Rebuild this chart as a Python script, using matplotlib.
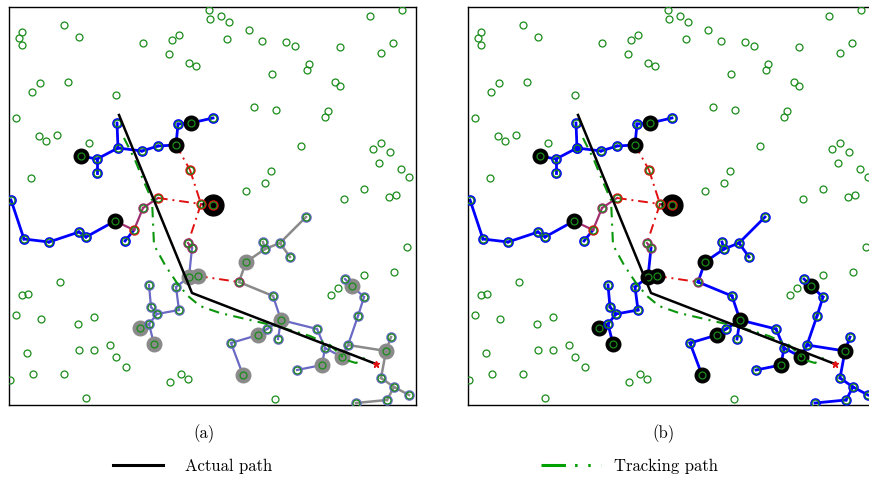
import matplotlib
matplotlib.use("Agg")
import matplotlib.pyplot as plt
from matplotlib.lines import Line2D

# field size (m)
FIELD_W, FIELD_H = 407, 398

# sensors that take no part in tracking
sensor_x = [200, 201, 212, 220, 361, 393, 13, 10, 13, 55, 70, 134, 163, 170, 160, 180, 187, 218, 240, 253,
            277, 286, 331, 384, 372, 300, 298, 263, 326, 331, 31, 23, 59, 107, 7, 245, 267, 319, 316, 30,
            37, 48, 80, 292, 364, 372, 381, 370, 392, 400, 262, 256, 237, 22, 355, 335, 380, 387,
            398, 355, 385, 322, 329, 51, 13, 19, 7, 32, 69, 85, 18, 70, 85, 101, 107, 117, 24, 55, 1, 77,
            172, 179, 161, 266]
sensor_y = [395, 386, 389, 383, 389, 395, 373, 367, 360, 380, 368, 362, 365, 370, 351, 342, 339, 366, 375, 364,
            363, 359, 358, 362, 352, 341, 335, 331, 323, 319, 322, 313, 323, 310, 287, 298, 295, 294, 288, 269,
            264, 270, 262, 259, 256, 262, 253, 242, 236, 228, 234, 222, 214, 227, 216, 206, 208, 210,
            158, 130, 133, 110, 117, 123, 110, 111, 90, 86, 81, 88, 52, 55, 55, 60, 48, 38, 31, 31, 25, 7,
            31, 26, 23, 6]

# sensors in the tracking trees
node_x = [108, 109, 88, 88, 72, 133, 149, 167, 169, 182, 204,
          2, 15, 40, 70, 77, 106, 125, 116, 134, 149,
          181, 192, 204, 179, 183, 180, 189,
          140, 142, 148, 140, 131, 145, 170, 167,
          230, 237, 256, 254, 271, 281, 297, 264, 272, 249, 258, 269, 222, 234,
          308, 316, 313, 288, 333, 339, 349, 355, 343, 336, 377, 382, 372, 385, 400, 378, 347]
node_y = [282, 257, 246, 232, 249, 254, 259, 260, 281, 282, 287,
          205, 166, 163, 173, 168, 184, 175, 164, 197, 207,
          235, 201, 200, 162, 157, 128, 129,
          120, 98, 91, 81, 77, 61, 95, 118,
          123, 143, 156, 163, 162, 148, 188, 109, 85, 70, 76, 66, 62, 30,
          76, 57, 40, 35, 48, 60, 89, 108, 119, 126, 54, 68, 27, 18, 10, 5, 2]

# cluster heads, and the head nearest the target
heads = [4, 7, 9, 16, 26, 27, 32, 33, 37, 44, 45, 49, 52, 54, 58, 60]
target_head = 23
red_nodes = [17, 20, 21, 22, 23]
purple_nodes = [19, 24, 25, 36]
upper_nodes = [0, 1, 2, 3, 5, 6, 8, 10, 11, 12, 13, 14, 15, 18]
lower_nodes = [28, 29, 30, 31, 34, 35, 38, 39, 40, 41, 42, 43, 46, 47, 48,
               50, 51, 53, 55, 56, 57, 59, 61, 62, 63, 64, 65, 66]

upper_edges = [(0, 1), (1, 2), (2, 3), (2, 4), (1, 5), (5, 6), (6, 7), (7, 8), (8, 9), (9, 10),
               (11, 12), (12, 13), (13, 14), (14, 15), (15, 16), (17, 18)]
handoff_edges = [(16, 17), (17, 19), (19, 20), (22, 23), (24, 25)]
query_edges = [(7, 21), (21, 22), (20, 22), (22, 24), (27, 36)]
lower_edges = [(25, 26), (28, 29), (29, 30), (30, 31), (31, 32), (31, 33), (30, 34), (34, 35), (35, 26),
               (43, 44), (44, 46), (46, 45), (45, 48), (48, 49), (44, 47), (44, 50), (50, 51), (51, 52),
               (52, 53), (51, 54), (54, 55), (55, 56), (56, 57), (57, 58), (58, 59)]
idle_edges = [(36, 37), (37, 38), (38, 39), (38, 40), (40, 41), (40, 42), (36, 43),
              (55, 60), (60, 61), (60, 62), (62, 63), (63, 64), (63, 65), (65, 66)]

# target trajectory and its estimate
actual_x = [110, 183, 367]
actual_y = [290, 112, 41]
track_x = [115, 126, 135, 143, 144, 145, 156, 168, 179, 191, 211, 241, 271, 301, 321, 337, 347, 357]
track_y = [267, 245, 223, 205, 183, 160, 140, 122, 109, 99, 92, 85, 78, 69, 60, 45, 42, 48]

GREEN = "#1a8c1a"
TRACK_GREEN = "#0a960a"
BLUE = "#0000ff"
SLATE = "#6a6ac4"
RED = "#e01010"
PURPLE = "#a03070"


def draw_edges(ax, edges, **kw):
    for i, j in edges:
        ax.plot([node_x[i], node_x[j]], [node_y[i], node_y[j]], **kw)


def draw_nodes(ax, idx, **kw):
    ax.plot([node_x[i] for i in idx], [node_y[i] for i in idx], linestyle="none", marker="o",
            mfc="none", **kw)


def draw_panel(ax, full_tree):
    lower_col = BLUE if full_tree else SLATE
    head_col = "black" if full_tree else "#8a8a8a"

    draw_edges(ax, upper_edges, color=BLUE, lw=2.0, zorder=2)
    draw_edges(ax, handoff_edges, color=PURPLE, lw=1.6, zorder=2)
    draw_edges(ax, query_edges, color=RED, lw=1.4, ls=(0, (5, 2.5, 1, 2.5)), zorder=2)
    if full_tree:
        draw_edges(ax, lower_edges + idle_edges, color=BLUE, lw=2.0, zorder=2)
    else:
        draw_edges(ax, lower_edges, color=SLATE, lw=1.6, zorder=2)
        draw_edges(ax, idle_edges, color="#8a8a8a", lw=1.8, zorder=2)

    # cluster heads
    ax.plot([node_x[i] for i in heads[:4]], [node_y[i] for i in heads[:4]], "o",
            color="black", ms=10.5, zorder=3)
    ax.plot([node_x[i] for i in heads[4:]], [node_y[i] for i in heads[4:]], "o",
            color=head_col, ms=10.5, zorder=3)
    ax.plot(node_x[target_head], node_y[target_head], "o", color="black", ms=15, zorder=3)

    # node roles
    draw_nodes(ax, upper_nodes, ms=6.2, mec=BLUE, mew=1.5, zorder=4)
    draw_nodes(ax, lower_nodes, ms=6.2, mec=lower_col, mew=1.4, zorder=4)
    draw_nodes(ax, red_nodes, ms=6.2, mec=RED, mew=1.3, zorder=4)
    draw_nodes(ax, purple_nodes, ms=6.2, mec=PURPLE, mew=1.3, zorder=4)
    if full_tree:
        ax.plot(node_x[1], node_y[1], "o", color=BLUE, ms=6.5, zorder=4)

    # every sensor
    ax.plot(sensor_x + node_x, sensor_y + node_y, linestyle="none", marker="o", ms=5,
            mfc="none", mec=GREEN, mew=0.9, zorder=5)

    ax.plot(track_x, track_y, color=TRACK_GREEN, lw=1.5, ls=(0, (5, 3, 1, 3)), zorder=6)
    ax.plot(actual_x, actual_y, color="black", lw=1.8, zorder=7)
    ax.plot(actual_x[-1], actual_y[-1], "*", color=RED, ms=5, zorder=8)

    ax.set_xlim(0, FIELD_W)
    ax.set_ylim(0, FIELD_H)
    ax.set_xticks([])
    ax.set_yticks([])
    for s in ax.spines.values():
        s.set_linewidth(1.0)


fig = plt.figure(figsize=(8.69, 4.79), dpi=100)
ax_a = fig.add_axes([9 / 869, 1 - 405 / 479, 407 / 869, 398 / 479])
ax_b = fig.add_axes([468 / 869, 1 - 405 / 479, 407 / 869, 398 / 479])
draw_panel(ax_a, full_tree=False)
draw_panel(ax_b, full_tree=True)

font = dict(family="cmr10", size=12)
fig.text(204 / 869, 1 - 434 / 479, "(a)", ha="center", va="center", fontdict=font)
fig.text(663 / 869, 1 - 434 / 479, "(b)", ha="center", va="center", fontdict=font)

actual_handle = Line2D([], [], color="black", lw=2.2)
track_handle = Line2D([], [], color="#00a000", lw=2.2, ls=(0, (8, 3, 0.8, 3.5, 0.8, 3.5)))
fig.legend([actual_handle], ["Actual path"], loc="center left", bbox_to_anchor=(113 / 869, 1 - 466 / 479),
           frameon=False, borderpad=0, borderaxespad=0, handlelength=3.0, handletextpad=1.3,
           prop={"family": "cmr10", "size": 12})
fig.legend([track_handle], ["Tracking path"], loc="center left", bbox_to_anchor=(541 / 869, 1 - 466 / 479),
           frameon=False, borderpad=0, borderaxespad=0, handlelength=3.6, handletextpad=0.8,
           prop={"family": "cmr10", "size": 12})

fig.savefig("out.png", dpi=100)
